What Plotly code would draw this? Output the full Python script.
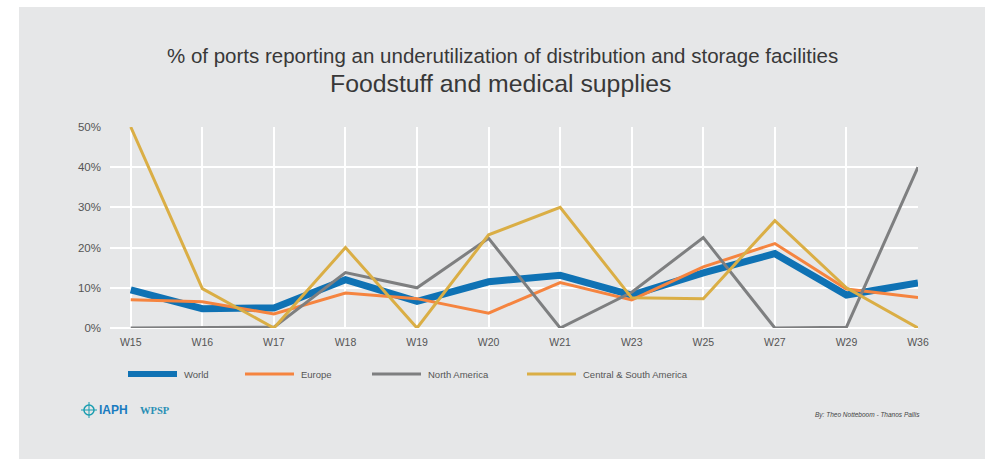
import plotly.graph_objects as go

weeks = ["W15", "W16", "W17", "W18", "W19", "W20", "W21", "W23", "W25", "W27", "W29", "W36"]
world = [9.5, 4.8, 5.0, 12.0, 6.6, 11.5, 13.1, 8.2, 13.7, 18.5, 8.2, 11.2]
europe = [7.0, 6.5, 3.5, 8.7, 7.3, 3.7, 11.3, 7.0, 15.2, 21.0, 9.7, 7.6]
north_america = [0.0, 0.1, 0.2, 13.8, 10.0, 22.3, 0.0, 8.9, 22.5, 0.0, 0.2, 40.0]
central_south_america = [50.0, 9.8, 0.0, 20.0, 0.0, 23.2, 30.0, 7.5, 7.3, 26.7, 10.0, 0.0]
y_ticks = [0, 10, 20, 30, 40, 50]
y_labels = ["0%", "10%", "20%", "30%", "40%", "50%"]

series = [
    ("World", world, "#0F72B4", 7),
    ("Europe", europe, "#F5843F", 3),
    ("North America", north_america, "#7E7F80", 3),
    ("Central & South America", central_south_america, "#DAAE45", 3),
]

W, H = 985, 459
L, R, T, B = 110, 918, 127, 328  # plot area, window pixels
FONT = "Liberation Sans, Arial, sans-serif"


def px(x):
    return (x - L) / (R - L)


def py(y):
    return (B - y) / (B - T)


fig = go.Figure()
for name, vals, color, width in series:
    fig.add_trace(go.Scatter(
        x=list(range(len(weeks))), y=vals, mode="lines", name=name,
        line=dict(color=color, width=width), cliponaxis=False,
    ))

shapes = [
    dict(type="rect", xref="paper", yref="paper", x0=px(19), x1=px(1000),
         y0=py(470), y1=py(7), fillcolor="#E6E7E8", line=dict(width=0), layer="below"),
]


def note(text, x, y, size, color="#333333", family=FONT, xanchor="center"):
    return dict(text=text, xref="paper", yref="paper", x=px(x), y=py(y), showarrow=False,
                xanchor=xanchor, yanchor="middle", font=dict(size=size, color=color, family=family))


annotations = [
    note("% of ports reporting an underutilization of distribution and storage facilities", 502, 55, 20.5, "#383838"),
    note("Foodstuff and medical supplies", 500, 83, 24.8, "#383838"),
    note("<i>By: Theo Notteboom - Thanos Pallis</i>", 867, 415, 6.5, "#444444"),
    note("<b>IAPH</b>", 97, 410, 12, "#1A7BC0", xanchor="left"),
    note("<b>WPSP</b>", 138, 410, 10.5, "#2A8FB5", "Liberation Serif, serif", xanchor="left"),
]
# helm icon for IAPH logo
shapes.append(dict(type="circle", xref="paper", yref="paper", x0=px(84), x1=px(94),
                   y0=py(415), y1=py(405), line=dict(color="#1A9DB0", width=1.5)))
shapes.append(dict(type="line", xref="paper", yref="paper", x0=px(81), x1=px(97),
                   y0=py(410), y1=py(410), line=dict(color="#1A9DB0", width=1)))
shapes.append(dict(type="line", xref="paper", yref="paper", x0=px(89), x1=px(89),
                   y0=py(402), y1=py(418), line=dict(color="#1A9DB0", width=1)))

# custom legend
leg_x = [128, 245, 372, 527]
for (name, vals, color, width), lx in zip(series, leg_x):
    shapes.append(dict(type="line", xref="paper", yref="paper", x0=px(lx), x1=px(lx + 49),
                       y0=py(374), y1=py(374), line=dict(color=color, width=width if width < 7 else 6)))
    annotations.append(note(name, lx + 54, 374, 9.5, "#555555", xanchor="left"))

fig.update_layout(
    width=W, height=H,
    margin=dict(l=L, r=W - R, t=T, b=H - B, pad=0),
    paper_bgcolor="white", plot_bgcolor="rgba(0,0,0,0)",
    showlegend=False,
    shapes=shapes, annotations=annotations,
    xaxis=dict(
        tickmode="array", tickvals=list(range(len(weeks))), ticktext=weeks,
        range=[-0.29, len(weeks) - 1], showgrid=True, gridcolor="white", gridwidth=1.5,
        zeroline=False, showline=False, ticks="", ticklabelstandoff=6,
        tickfont=dict(size=10.5, color="#555555", family=FONT),
    ),
    yaxis=dict(
        tickmode="array", tickvals=y_ticks, ticktext=y_labels, range=[0, 50],
        showgrid=True, gridcolor="white", gridwidth=1.5, zeroline=True, zerolinecolor="white",
        zerolinewidth=1.5, showline=False, ticks="", ticklabelstandoff=8,
        tickfont=dict(size=11.5, color="#555555", family=FONT),
    ),
)

fig.write_html(
    "out.html",
    config={"displayModeBar": False},
    post_script="document.body.style.margin='0';document.body.style.overflow='hidden';",
)
